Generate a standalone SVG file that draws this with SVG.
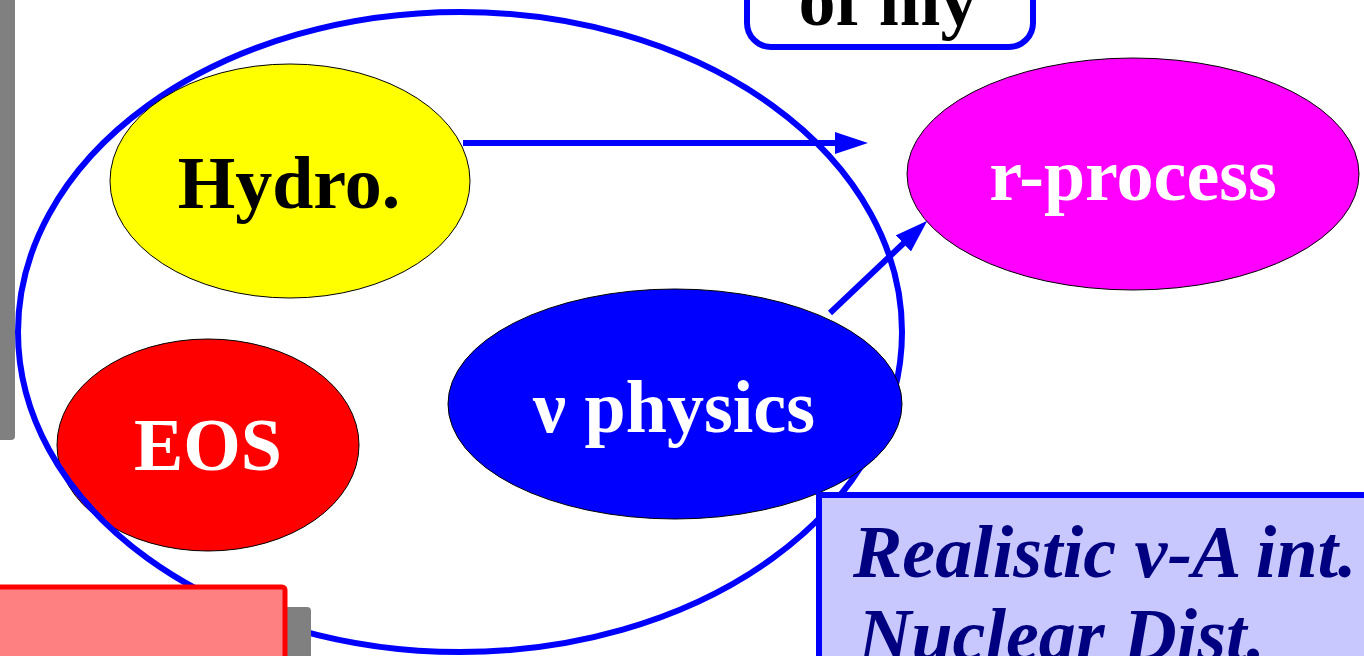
<svg xmlns="http://www.w3.org/2000/svg" width="1364" height="656" viewBox="0 0 1364 656">
  <style>
    .lbl { font-family: "Liberation Serif", "Times New Roman", serif; font-weight: bold; font-size: 74px; text-anchor: middle; }
    .node { stroke: #000000; stroke-width: 1; }
    .conn { stroke: #0000FF; stroke-width: 6; fill: none; }
    .shadow { fill: #808080; }
  </style>
  <defs>
    <marker id="arrow" markerUnits="userSpaceOnUse" viewBox="0 0 33 22" markerWidth="33" markerHeight="22" refX="5" refY="11" orient="auto">
      <path d="M0,0 L33,11 L0,22 z" fill="#0000FF"/>
    </marker>
  </defs>
  <rect width="1364" height="656" fill="#FFFFFF"/>

  <g id="eos">
    <ellipse class="node" cx="208" cy="445" rx="151" ry="106" fill="#FF0000"/>
    <text class="lbl" x="208" y="470" fill="#FFFFFF">EOS</text>
  </g>

  <g id="group-ellipse">
    <ellipse cx="460" cy="332" rx="442" ry="320" fill="none" stroke="#0000FF" stroke-width="6"/>
  </g>

  <g id="hydro">
    <ellipse class="node" cx="290" cy="181" rx="180" ry="117" fill="#FFFF00"/>
    <text class="lbl" x="289" y="208" fill="#000000">Hydro.</text>
  </g>

  <g id="nu-physics">
    <ellipse class="node" cx="675" cy="404" rx="227" ry="115" fill="#0000FF"/>
    <text class="lbl" x="674" y="432" fill="#FFFFFF">ν physics</text>
  </g>

  <g id="r-process">
    <ellipse class="node" cx="1133" cy="174" rx="226" ry="116" fill="#FF00FF"/>
    <text class="lbl" x="1133" y="200" fill="#FFFFFF">r-process</text>
  </g>

  <g id="connectors">
    <line class="conn" x1="463" y1="143" x2="840" y2="143" marker-end="url(#arrow)"/>
    <line class="conn" x1="830" y1="313" x2="907" y2="240" marker-end="url(#arrow)"/>
  </g>

  <g id="top-box">
    <rect x="747" y="-100" width="286" height="147" rx="24" ry="24" fill="#FFFFFF" stroke="#0000FF" stroke-width="6"/>
    <text class="lbl" x="888" y="25" fill="#000000">of my</text>
  </g>

  <g id="left-shadow">
    <rect class="shadow" x="-20" y="-20" width="35" height="460" rx="4" ry="4"/>
  </g>

  <g id="red-box">
    <rect class="shadow" x="-10" y="607" width="321" height="80" rx="4" ry="4"/>
    <rect x="-20" y="587" width="305" height="100" rx="3" ry="3" fill="#FF8080" stroke="#FF0000" stroke-width="5"/>
  </g>

  <g id="info-box">
    <rect x="819" y="495" width="600" height="200" fill="#C8C8FF" stroke="#0000FF" stroke-width="6"/>
    <text x="853" y="577" fill="#000080" font-family="'Liberation Serif', 'Times New Roman', serif" font-weight="bold" font-style="italic" font-size="74">Realistic ν-A int.</text>
    <text x="858" y="660" fill="#000080" font-family="'Liberation Serif', 'Times New Roman', serif" font-weight="bold" font-style="italic" font-size="74">Nuclear Dist.</text>
  </g>
</svg>
